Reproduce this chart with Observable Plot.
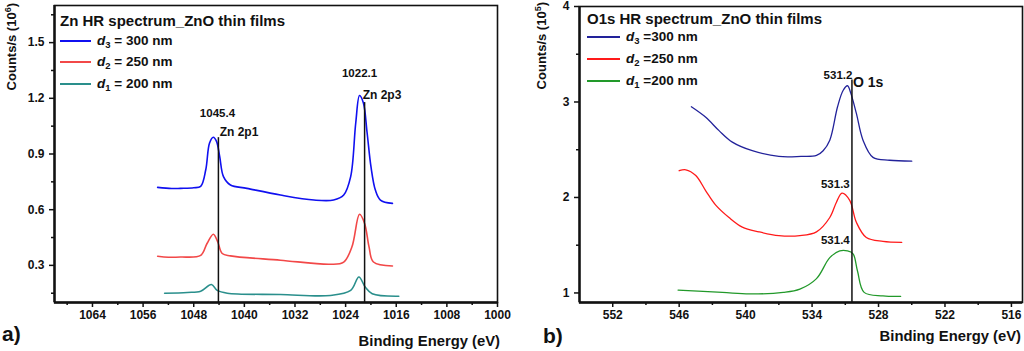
<!DOCTYPE html>
<html>
<head>
<meta charset="utf-8">
<script src="https://cdn.jsdelivr.net/npm/d3@7"></script>
<script src="https://cdn.jsdelivr.net/npm/@observablehq/plot@0.6"></script>
<style>
  body { margin: 0; background: #fff; font-family: "Liberation Sans", Arial, sans-serif; }
  #wrap { position: relative; width: 1024px; height: 351px; overflow: hidden; background: #fff; }
  .panel { position: absolute; top: 0; }
  .lbl { position: absolute; font-weight: bold; color: #111; white-space: nowrap; line-height: 1; }
  .ytitle { transform-origin: 0 0; transform: rotate(-90deg) translate(-100%, -50%); font-size: 13px; }
  .ytitle sup { font-size: 9px; }
  .leg-title { font-size: 15px; }
  .leg-row { position: absolute; display: flex; align-items: center; font-weight: bold; font-size: 13.5px; color: #111; white-space: nowrap; }
  .sw { display: inline-block; height: 2px; margin-right: 6px; }
  .leg-row sub { font-size: 9.5px; vertical-align: -3px; }
</style>
</head>
<body>
<div id="wrap"></div>
<script>
// ---------------- Data (panel a: Zn 2p) ----------------
const znXTicks = [1064, 1056, 1048, 1040, 1032, 1024, 1016, 1008, 1000];
const znXMinor = [1068, 1060, 1052, 1044, 1036, 1028, 1020, 1012, 1004];
const znYTicks = [0.3, 0.6, 0.9, 1.2, 1.5];
const znYMinor = [0.15, 0.45, 0.75, 1.05, 1.35, 1.65];

// [binding energy (eV), counts/s (10^6)]
const zn300 = [
  [1053.7, 0.720], [1051.5, 0.714], [1050.1, 0.715], [1048.0, 0.718], [1046.9, 0.726], [1046.1, 0.815],
  [1045.5, 0.959], [1044.9, 0.990], [1044.4, 0.968], [1043.9, 0.887], [1043.3, 0.778],
  [1042.2, 0.733], [1039.6, 0.715], [1034.3, 0.679], [1029.0, 0.652], [1025.9, 0.652],
  [1024.3, 0.679], [1023.2, 0.778], [1022.4, 1.067], [1021.8, 1.215], [1021.2, 1.176],
  [1020.6, 1.013], [1020.0, 0.833], [1019.3, 0.706], [1018.5, 0.652], [1016.6, 0.634]
];
const zn250 = [
  [1053.7, 0.349], [1052.0, 0.344], [1050.1, 0.345], [1046.9, 0.354], [1045.9, 0.418],
  [1044.9, 0.468], [1044.2, 0.426], [1043.5, 0.364], [1042.2, 0.351], [1034.3, 0.328],
  [1026.4, 0.306], [1024.3, 0.318], [1023.0, 0.400], [1021.8, 0.575], [1021.0, 0.526],
  [1020.3, 0.400], [1019.6, 0.318], [1016.6, 0.297]
];
const zn200 = [
  [1052.6, 0.150], [1049.0, 0.154], [1046.9, 0.161], [1045.2, 0.197], [1044.3, 0.165],
  [1042.7, 0.150], [1034.3, 0.143], [1026.4, 0.138], [1023.2, 0.165], [1021.9, 0.237],
  [1020.9, 0.183], [1019.8, 0.147], [1015.6, 0.134]
];
const znPeakLines = [ [1044.1, 0.988], [1021.0, 1.177] ];   // [x, top]
const znLabels = [
  [1044.25, 1.118, "1045.4", "middle", "bold", 11.5],
  [1043.9, 1.015, "Zn 2p1", "start", "bold", 12],
  [1021.8, 1.334, "1022.1", "middle", "bold", 11.5],
  [1021.3, 1.217, "Zn 2p3", "start", "bold", 12]
];

// ---------------- Data (panel b: O 1s) ----------------
const oXTicks = [552, 546, 540, 534, 528, 522, 516];
const oXMinor = [549, 543, 537, 531, 525, 519];
const oYTicks = [1, 2, 3, 4];
const oYMinor = [1.5, 2.5, 3.5];

// [binding energy (eV), counts/s (10^5)]
const o300 = [
  [544.9, 2.95], [543.6, 2.84], [542.4, 2.70], [541.2, 2.58], [539.4, 2.49], [537.0, 2.43],
  [535.0, 2.43], [533.6, 2.44], [533.0, 2.49], [532.4, 2.60], [531.7, 2.95], [531.2, 3.12],
  [530.8, 3.17], [530.5, 3.09], [530.0, 2.88], [529.4, 2.60], [528.5, 2.42], [527.0, 2.39],
  [525.0, 2.38]
];
const o250 = [
  [546.0, 2.28], [545.4, 2.29], [544.5, 2.23], [543.6, 2.07], [542.7, 1.92], [541.5, 1.79],
  [540.3, 1.69], [538.8, 1.64], [537.0, 1.60], [535.1, 1.60], [533.6, 1.64], [532.4, 1.79],
  [531.8, 1.95], [531.3, 2.045], [530.6, 1.97], [530.0, 1.74], [529.1, 1.58], [527.6, 1.54],
  [525.9, 1.53]
];
const o200 = [
  [546.1, 1.03], [542.1, 1.006], [539.65, 0.99], [536.6, 1.006], [535.1, 1.04], [533.6, 1.15],
  [532.4, 1.37], [531.5, 1.44], [530.8, 1.44], [530.3, 1.41], [529.9, 1.23], [529.3, 1.006],
  [527.6, 0.97], [526.0, 0.965]
];
const oPeakLines = [ [530.4, 3.23] ];
const oLabels = [
  [531.66, 3.28, "531.2", "middle", "bold", 11.5],
  [530.3, 3.20, "O 1s", "start", "bold", 14],
  [531.9, 2.14, "531.3", "middle", "bold", 11.5],
  [531.9, 1.55, "531.4", "middle", "bold", 11.5]
];

const znSeries = [
  {name: "3", val: "= 300 nm", data: zn300, color: "#1010f0"},
  {name: "2", val: "= 250 nm", data: zn250, color: "#f24848"},
  {name: "1", val: "= 200 nm", data: zn200, color: "#2a8f8c"}
];
const oSeries = [
  {name: "3", val: "=300 nm", data: o300, color: "#22229a"},
  {name: "2", val: "=250 nm", data: o250, color: "#ff1a1a"},
  {name: "1", val: "=200 nm", data: o200, color: "#22992a"}
];

function panel({xDomain, yDomain, xTicks, xMinor, yTicks, yMinor, series, peaks, labels, marginLeft, marginRight, marginTop, strokeWidth, yFmt}) {
  return Plot.plot({
    width: 512, height: 351,
    marginLeft, marginRight, marginTop, marginBottom: 49,
    x: {domain: xDomain, label: null},
    y: {domain: yDomain, label: null},
    style: {fontFamily: "'Liberation Sans', Arial, sans-serif", fontSize: "12px", fontWeight: "bold", color: "#111", background: "transparent"},
    marks: [
      Plot.frame({stroke: "#111", strokeWidth: 1.6}),
      Plot.axisX({ticks: xTicks, tickSize: 5, tickPadding: 3, strokeWidth: 1.5, tickFormat: d => String(d), label: null}),
      Plot.axisX({ticks: xMinor, tickSize: 3, strokeWidth: 1.5, tickFormat: () => "", label: null}),
      Plot.axisY({ticks: yTicks, tickSize: 5, tickPadding: 5, strokeWidth: 1.5, tickFormat: yFmt, label: null}),
      Plot.axisY({ticks: yMinor, tickSize: 3, strokeWidth: 1.5, tickFormat: () => "", label: null}),
      Plot.ruleX([xDomain[0]], {stroke: "#111", strokeWidth: 2.4}),
      Plot.ruleY([yDomain[0]], {stroke: "#111", strokeWidth: 2.4}),
      ...series.map(s => Plot.line(s.data, {x: d => d[0], y: d => d[1], stroke: s.color, strokeWidth: strokeWidth, curve: "catmull-rom"})),
      Plot.ruleX(peaks, {x: d => d[0], y1: yDomain[0], y2: d => d[1], stroke: "#111", strokeWidth: 1.5}),
      ...labels.map(l => Plot.text([l], {x: d => d[0], y: d => d[1], text: d => d[2], textAnchor: l[3], fontWeight: l[4], fontSize: l[5], fill: "#111"}))
    ]
  });
}

const wrap = document.getElementById("wrap");

const pa = panel({
  xDomain: [1070, 1000], yDomain: [0.1, 1.7], xTicks: znXTicks, xMinor: znXMinor,
  yTicks: znYTicks, yMinor: znYMinor, series: znSeries, peaks: znPeakLines, labels: znLabels,
  marginLeft: 54, marginRight: 15, marginTop: 5, strokeWidth: 1.6, yFmt: d => d.toFixed(1)
});
pa.classList.add("panel"); pa.style.left = "0px";
wrap.appendChild(pa);

const pb = panel({
  xDomain: [555, 515], yDomain: [0.9, 4], xTicks: oXTicks, xMinor: oXMinor,
  yTicks: oYTicks, yMinor: oYMinor, series: oSeries, peaks: oPeakLines, labels: oLabels,
  marginLeft: 67, marginRight: 2, marginTop: 6, strokeWidth: 1.3, yFmt: d => String(d)
});
pb.classList.add("panel"); pb.style.left = "512px";
wrap.appendChild(pb);

function addHTML(html) { wrap.insertAdjacentHTML("beforeend", html); }

// axis titles and panel letters
addHTML(`<div class="lbl ytitle" style="left:11px;top:3px;">Counts/s (10<sup>6</sup>)</div>`);
addHTML(`<div class="lbl ytitle" style="left:541px;top:2px;">Counts/s (10<sup>5</sup>)</div>`);
addHTML(`<div class="lbl" style="right:${1024-500}px;top:334px;font-size:14.8px;">Binding Energy (eV)</div>`);
addHTML(`<div class="lbl" style="right:${1024-1021}px;top:329px;font-size:14.8px;">Binding Energy (eV)</div>`);
addHTML(`<div class="lbl" style="left:2px;top:323px;font-size:21px;">a)</div>`);
addHTML(`<div class="lbl" style="left:543px;top:325px;font-size:21px;">b)</div>`);

// legends
function legend(title, series, x, yTitle, ys, swW) {
  addHTML(`<div class="lbl leg-title" style="left:${x}px;top:${yTitle - 8}px;">${title}</div>`);
  series.forEach((s, i) => {
    addHTML(`<div class="leg-row" style="left:${x}px;top:${ys[i] - 9}px;height:18px;"><span class="sw" style="width:${swW}px;background:${s.color}"></span><span><i>d</i><sub>${s.name}</sub> ${s.val}</span></div>`);
  });
}
legend("Zn HR spectrum_ZnO thin films", znSeries, 60, 21, [41, 62, 84], 31);
legend("O1s HR spectrum_ZnO thin films", oSeries, 587, 19, [37, 59, 81], 33);
</script>
</body>
</html>
